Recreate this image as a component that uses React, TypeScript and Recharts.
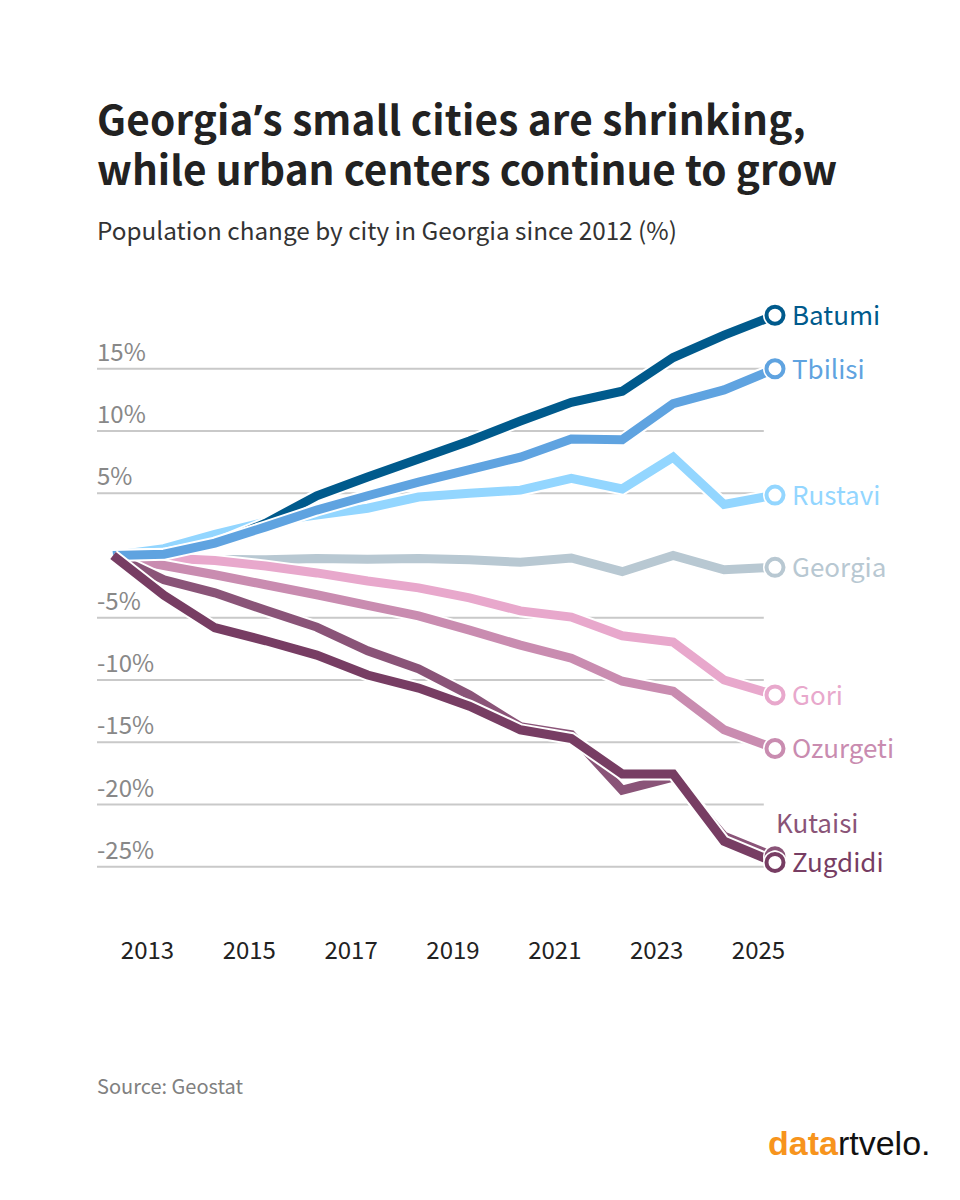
import { LineChart, Line, XAxis, YAxis, ReferenceLine } from 'recharts';

const years = [2012, 2013, 2014, 2015, 2016, 2017, 2018, 2019, 2020, 2021, 2022, 2023, 2024, 2025];
const yearTicks = [2013, 2015, 2017, 2019, 2021, 2023, 2025];
const gridTicks = [15, 10, 5, -5, -10, -15, -20, -25];

const batumi = [0, 0.1, 0.9, 2.6, 4.8, 6.3, 7.75, 9.2, 10.8, 12.3, 13.2, 15.9, 17.7, 19.3];
const tbilisi = [0, 0.1, 1.0, 2.3, 3.65, 4.8, 5.9, 6.9, 7.9, 9.35, 9.3, 12.2, 13.3, 15.0];
const rustavi = [0, 0.55, 1.7, 2.7, 3.25, 3.8, 4.7, 5.0, 5.25, 6.2, 5.35, 7.9, 4.1, 4.85];
const georgia = [0, -0.1, -0.3, -0.35, -0.25, -0.3, -0.25, -0.35, -0.55, -0.2, -1.3, 0, -1.15, -0.95];
const gori = [0, -0.2, -0.4, -0.85, -1.4, -2.05, -2.6, -3.4, -4.45, -4.95, -6.45, -6.95, -10, -11.2];
const ozurgeti = [0, -0.8, -1.55, -2.35, -3.15, -4.0, -4.85, -6.0, -7.2, -8.25, -10.1, -10.9, -14, -15.5];
const kutaisi = [0, -1.95, -3.0, -4.4, -5.75, -7.65, -9.1, -11.2, -13.75, -14.4, -18.85, -17.8, -22.55, -24.2];
const zugdidi = [0, -3.2, -5.8, -6.85, -8.0, -9.6, -10.65, -12.1, -14.0, -14.7, -17.55, -17.55, -22.95, -24.65];

// back to front
const series = [
  { name: 'Rustavi', values: rustavi, color: '#93d6ff' },
  { name: 'Batumi', values: batumi, color: '#005a8c' },
  { name: 'Georgia', values: georgia, color: '#b8c8d2' },
  { name: 'Gori', values: gori, color: '#e8a8cc' },
  { name: 'Ozurgeti', values: ozurgeti, color: '#c98cb0' },
  { name: 'Kutaisi', values: kutaisi, color: '#8a5478' },
  { name: 'Tbilisi', values: tbilisi, color: '#5fa3e0' },
  { name: 'Zugdidi', values: zugdidi, color: '#773d63' },
];

const rows = years.map((year, i) => {
  const row: Record<string, number> = { year };
  series.forEach((s) => {
    row[s.name] = s.values[i];
  });
  return row;
});

const FONT = '"Noto Sans CJK SC", "Noto Sans", sans-serif';
const GRID_START = 2011.685;
const GRID_END = 2024.78;
const last = years.length - 1;

const YearTick = ({ x, y, payload }: any) => (
  <text x={x - 16.5} y={y + 22} textAnchor="middle" fontSize={24} fontFamily={FONT} fill="#222">
    {payload.value}
  </text>
);

const PercentTick = ({ y, payload }: any) => (
  <text x={97} y={y - 8} textAnchor="start" fontSize={24} fontFamily={FONT} fill="#888">
    {payload.value}%
  </text>
);

const endDot = (color: string) => (props: any) => {
  if (props.index !== last) return <g key={props.index} />;
  return (
    <circle key={props.index} cx={props.cx} cy={props.cy} r={8.5} fill="#fff" stroke={color} strokeWidth={4} />
  );
};

const haloDot = (props: any) => {
  if (props.index !== last) return <g key={props.index} />;
  return <circle key={props.index} cx={props.cx} cy={props.cy} r={12} fill="#fff" />;
};

const endLabel = (name: string, color: string) => (props: any) => {
  if (props.index !== last) return <g key={props.index} />;
  const kutaisi = name === 'Kutaisi';
  return (
    <text
      key={props.index}
      x={props.x + (kutaisi ? 1 : 17)}
      y={props.y + (kutaisi ? -24 : 10)}
      fontSize={26}
      fontFamily={FONT}
      fill={color}
    >
      {name}
    </text>
  );
};

const textStyle = { position: 'absolute', left: 97, margin: 0, fontFamily: FONT, whiteSpace: 'nowrap' } as const;
const titleStyle = { ...textStyle, fontSize: 40.5, lineHeight: '50px', height: 50, fontWeight: 700, color: '#222' } as const;

export default function App() {
  return (
    <div style={{ position: 'absolute', left: 0, top: 0, width: 960, height: 1200, background: '#fff', overflow: 'hidden' }}>
      <div style={{ ...titleStyle, top: 93, letterSpacing: 0.16 }}>
        Georgia<span style={{ fontFamily: '"Noto Sans", sans-serif' }}>’</span>s small cities are shrinking,
      </div>
      <div style={{ ...titleStyle, top: 143 }}>while urban centers continue to grow</div>
      <div style={{ ...textStyle, top: 213, fontSize: 24.3, lineHeight: '34px', color: '#333' }}>
        Population change by city in Georgia since 2012 (%)
      </div>
      <div style={{ position: 'absolute', left: 0, top: 0 }}>
        <LineChart
          width={960}
          height={1200}
          data={rows}
          margin={{ top: 306.5, right: 185, bottom: 241, left: 96 }}
        >
          <XAxis
            dataKey="year"
            type="number"
            domain={[GRID_START, 2025]}
            ticks={yearTicks}
            interval={0}
            height={30}
            axisLine={false}
            tickLine={false}
            tick={YearTick}
          />
          <YAxis
            type="number"
            domain={[-30, 20]}
            ticks={gridTicks}
            interval={0}
            width={1}
            axisLine={false}
            tickLine={false}
            tick={PercentTick}
          />
          {gridTicks.map((t) => (
            <ReferenceLine
              key={t}
              segment={[
                { x: GRID_START, y: t },
                { x: GRID_END, y: t },
              ]}
              stroke="#c9c9c9"
              strokeWidth={2}
            />
          ))}
          {series.flatMap((s) => [
            <Line
              key={s.name + '-halo'}
              dataKey={s.name}
              stroke="#fff"
              strokeWidth={13}
              dot={haloDot}
              activeDot={false}
              isAnimationActive={false}
            />,
            <Line
              key={s.name}
              dataKey={s.name}
              stroke={s.color}
              strokeWidth={9}
              dot={endDot(s.color)}
              label={endLabel(s.name, s.color)}
              activeDot={false}
              isAnimationActive={false}
            />,
          ])}
        </LineChart>
      </div>
      <div style={{ ...textStyle, top: 1073, fontSize: 20, lineHeight: '26px', color: '#808080' }}>Source: Geostat</div>
      <div
        style={{
          position: 'absolute',
          left: 768,
          top: 1123,
          fontFamily: '"Liberation Sans", sans-serif',
          fontSize: 34,
          lineHeight: '40px',
          color: '#111',
        }}
      >
        <span style={{ color: '#f7941d', fontWeight: 700 }}>data</span>rtvelo.
      </div>
    </div>
  );
}
